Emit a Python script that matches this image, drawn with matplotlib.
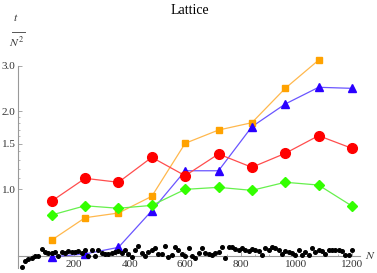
import numpy as np
import matplotlib
matplotlib.use("Agg")
import matplotlib.pyplot as plt
from matplotlib.ticker import FixedLocator, NullFormatter
from matplotlib.lines import Line2D

plt.rcParams['font.family'] = ['Liberation Serif', 'DejaVu Serif']
plt.rcParams['mathtext.fontset'] = 'stix'

# ---- data ----
N_big = [120, 240, 360, 480, 600, 720, 840, 960, 1080, 1200]
red = [0.898, 1.10, 1.062, 1.327, 1.126, 1.367, 1.214, 1.375, 1.61, 1.438]
green = [0.793, 0.861, 0.842, 0.864, 0.997, 1.015, 0.988, 1.062, 1.036, 0.859]
N_orange = [120, 240, 360, 480, 600, 720, 840, 960, 1080]
orange = [0.634, 0.774, 0.807, 0.937, 1.504, 1.693, 1.808, 2.457, 3.16]
blue = [0.546, 0.56, 0.594, 0.824, 1.177, 1.177, 1.744, 2.136, 2.48, 2.457]

N_small = list(range(12, 1201, 12))
black = [0.50, 0.525, 0.535, 0.54, 0.548, 0.55, 0.583, 0.568, 0.565, 0.565,
         0.57, 0.552, 0.572, 0.565, 0.575, 0.572, 0.568, 0.575, 0.566, 0.58,
         0.55, 0.578, 0.548, 0.578, 0.566, 0.562, 0.562, 0.566, 0.57, 0.575,
         0.566, 0.58, 0.56,
         0.547, 0.58, 0.602, 0.563, 0.551, 0.571, 0.58, 0.592, 0.56, 0.56,
         0.6, 0.547, 0.555, 0.597, 0.58, 0.558, 0.551, 0.588, 0.551, 0.542,
         0.563, 0.588, 0.563, 0.558, 0.555, 0.563, 0.571, 0.594, 0.542, 0.594,
         0.597, 0.585, 0.58, 0.588, 0.58, 0.575,
         0.583, 0.58, 0.575, 0.553, 0.592, 0.58, 0.598, 0.59, 0.58, 0.56,
         0.575, 0.572, 0.565, 0.553, 0.58, 0.557, 0.572, 0.553, 0.59, 0.572,
         0.58, 0.575, 0.56, 0.58, 0.58, 0.58, 0.58, 0.577, 0.553, 0.557, 0.58]

y_ticks = [1.0, 1.5, 2.0, 3.0]
y_tick_labels = ['1.0', '1.5', '2.0', '3.0']
y_minor = [1.1, 1.2, 1.3, 1.4, 1.6, 1.7, 1.8, 1.9]
x_ticks = [200, 400, 600, 800, 1000, 1200]
x_tick_labels = ['200', '400', '600', '800', '1000', '1200']
x_minor = [50, 100, 150, 250, 300, 350, 450, 500, 550, 650, 700, 750,
           850, 900, 950, 1050, 1100, 1150]

# ---- figure ----
W, H = 377, 273
fig = plt.figure(figsize=(W / 100, H / 100), dpi=100)
ax = fig.add_axes([18.4 / W, 1 - 268.9 / H, (360 - 18.4) / W, (268.9 - 55.3) / H])
ax.set_yscale('log')
ax.set_xlim(0, 1229)
ax.set_ylim(0.49, 3.3)

ax.plot(N_orange, orange, '-', color='#FFB84D', lw=0.9, zorder=3, clip_on=False)
ax.plot(N_orange, orange, 's', color='#FFA200', ms=5, mec='#FFA200', zorder=4, clip_on=False)
ax.plot(N_big, blue, '-', color='#6A55FF', lw=0.9, zorder=3, clip_on=False)
ax.plot(N_big, blue, '^', color='#2A00FF', ms=6, mec='#2A00FF', zorder=4, clip_on=False)
ax.plot(N_big, red, '-', color='#FF4D4D', lw=0.9, zorder=3, clip_on=False)
ax.plot(N_big, red, 'o', color='#FF0000', ms=7.0, mec='#FF0000', zorder=4, clip_on=False)
ax.plot(N_big, green, '-', color='#66F04D', lw=0.9, zorder=3, clip_on=False)
ax.plot(N_big, green, 'D', color='#33FF00', ms=5.2, mec='#33FF00', zorder=4, clip_on=False)
ax.plot(N_small, black, 'o', color='black', ms=2.6, mec='black', zorder=5, clip_on=False)

for s in ['top', 'right']:
    ax.spines[s].set_visible(False)
ax.spines['bottom'].set_position(('data', 0.55))
ax.spines['left'].set_bounds(0.494, 3.0)
for s in ['bottom', 'left']:
    ax.spines[s].set_color('#999999')
    ax.spines[s].set_linewidth(0.8)

ax.yaxis.set_major_locator(FixedLocator(y_ticks))
ax.set_yticklabels(y_tick_labels)
ax.yaxis.set_minor_locator(FixedLocator(y_minor))
ax.yaxis.set_minor_formatter(NullFormatter())
ax.xaxis.set_major_locator(FixedLocator(x_ticks))
ax.set_xticklabels(x_tick_labels)
ax.xaxis.set_minor_locator(FixedLocator(x_minor))

ax.tick_params(axis='both', which='major', direction='in', length=3, width=0.6,
               color='#999999', labelsize=8, labelcolor='#333333', pad=2)
ax.tick_params(axis='both', which='minor', direction='in', length=1.6, width=0.5,
               color='#999999')
ax.tick_params(axis='x', which='major', pad=3)

fig.text(190 / W, 1 - 10 / H, 'Lattice', ha='center', va='center', fontsize=10)
# stacked fraction t / N^2
fig.text(16 / W, 1 - 18 / H, r'$t$', ha='center', va='center', fontsize=8.5, color='#333333')
fig.add_artist(Line2D([11.5 / W, 25 / W], [1 - 31.5 / H, 1 - 31.5 / H],
                      transform=fig.transFigure, color='#555555', lw=0.7))
fig.text(17 / W, 1 - 43 / H, r'$N^2$', ha='center', va='center', fontsize=8.5, color='#333333')
fig.text(370 / W, 1 - 256 / H, r'$N$', ha='center', va='center', fontsize=8.5, color='#333333')

fig.savefig('out.png', dpi=100)
